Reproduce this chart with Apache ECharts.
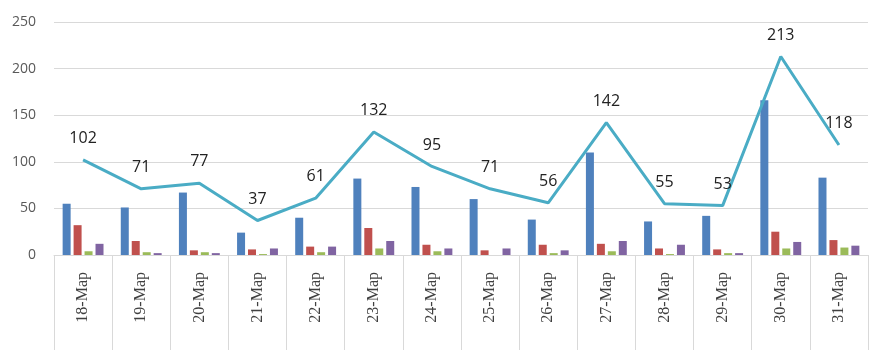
<!DOCTYPE html>
<html>
<head>
<meta charset="utf-8">
<script src="https://cdn.jsdelivr.net/npm/echarts@6/dist/echarts.min.js"></script>
<style>
html,body{margin:0;padding:0;background:#fff;}
#c{width:880px;height:350px;}
</style>
</head>
<body>
<div id="c"></div>
<script>
const categories = ['18-Мар','19-Мар','20-Мар','21-Мар','22-Мар','23-Мар','24-Мар','25-Мар','26-Мар','27-Мар','28-Мар','29-Мар','30-Мар','31-Мар'];
const seriesBlue   = [55, 51, 67, 24, 40, 82, 73, 60, 38, 110, 36, 42, 166, 83];
const seriesRed    = [32, 15, 5, 6, 9, 29, 11, 5, 11, 12, 7, 6, 25, 16];
const seriesGreen  = [4, 3, 3, 1, 3, 7, 4, 0, 2, 4, 1, 2, 7, 8];
const seriesPurple = [12, 2, 2, 7, 9, 15, 7, 7, 5, 15, 11, 2, 14, 10];
const seriesTotal  = [102, 71, 77, 37, 61, 132, 95, 71, 56, 142, 55, 53, 213, 118];
const yTicks = [0, 50, 100, 150, 200, 250];

const chart = echarts.init(document.getElementById('c'), null, {renderer:'canvas'});
const barCommon = {type:'bar', barWidth:8, barGap:'37%', silent:true};
chart.setOption({
  animation:false,
  backgroundColor:'#ffffff',
  grid:{left:54, right:12, top:22, bottom:95, containLabel:false},
  xAxis:{
    type:'category',
    data:categories,
    boundaryGap:true,
    axisLine:{show:true, lineStyle:{color:'#d9d9d9', width:1}},
    axisTick:{show:true, interval:0, length:95, lineStyle:{color:'#d9d9d9', width:1}},
    axisLabel:{interval:0, rotate:90, margin:17, fontFamily:'Liberation Serif', fontSize:16, color:'#404040'}
  },
  yAxis:{
    type:'value',
    min:yTicks[0],
    max:yTicks[yTicks.length-1],
    interval:50,
    axisLine:{show:false},
    axisTick:{show:false},
    axisLabel:{margin:18, fontFamily:'Open Sans', fontSize:14, color:'#595959'},
    splitLine:{show:true, lineStyle:{color:'#d9d9d9', width:1}}
  },
  series:[
    Object.assign({}, barCommon, {name:'a', data:seriesBlue, itemStyle:{color:'#4f81bd'}}),
    Object.assign({}, barCommon, {name:'b', data:seriesRed, itemStyle:{color:'#c0504d'}}),
    Object.assign({}, barCommon, {name:'c', data:seriesGreen, itemStyle:{color:'#9bbb59'}}),
    Object.assign({}, barCommon, {name:'d', data:seriesPurple, itemStyle:{color:'#8064a2'}}),
    {
      type:'line', name:'total', data:seriesTotal,
      symbol:'circle', symbolSize:1, showSymbol:true, silent:true,
      itemStyle:{color:'rgba(0,0,0,0)'},
      lineStyle:{color:'#4aacc5', width:3},
      label:{show:true, position:'top', distance:13, fontFamily:'Open Sans', fontSize:16, color:'#222222'},
      labelLayout:{hideOverlap:false},
      z:5
    }
  ]
});
</script>
</body>
</html>
